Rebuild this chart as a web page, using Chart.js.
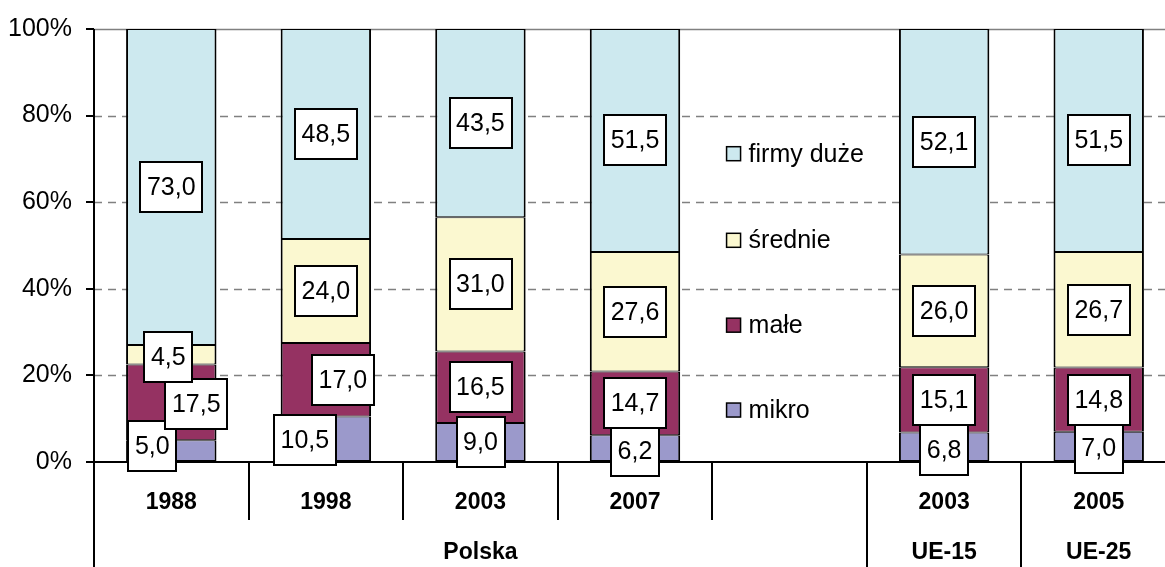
<!DOCTYPE html>
<html>
<head>
<meta charset="utf-8">
<script src="https://cdn.jsdelivr.net/npm/chart.js@4"></script>
<style>
  body { margin: 0; overflow: hidden; background: #fff; }
</style>
</head>
<body>
<canvas id="chart" width="1176" height="567"></canvas>
<script>
const years = ["1988", "1998", "2003", "2007", "", "2003", "2005"];
const groupNames = ["Polska", "UE-15", "UE-25"];
const groupSpans = [[0, 4], [5, 5], [6, 6]];
const mikro = [5.0, 10.5, 9.0, 6.2, null, 6.8, 7.0];
const male = [17.5, 17.0, 16.5, 14.7, null, 15.1, 14.8];
const srednie = [4.5, 24.0, 31.0, 27.6, null, 26.0, 26.7];
const duze = [73.0, 48.5, 43.5, 51.5, null, 52.1, 51.5];
const seriesNames = ["mikro", "małe", "średnie", "firmy duże"];
const yTicks = [0, 20, 40, 60, 80, 100];

const colors = ["#9b99cb", "#953262", "#fbf8d0", "#cde9ef"];
const FONT = "'Liberation Sans', Arial, sans-serif";

// manual nudges of a few value boxes, as in the original (dataset-index)
const labelShift = {
  "0-0": [-19, -5], "1-0": [25, 2], "2-0": [-3, 2],
  "0-1": [-21, 1], "1-1": [17, 0],
  "0-3": [0, 3], "0-5": [0, 3], "0-6": [0, 2],
};

const fmt = (v) => v.toFixed(1).replace(".", ",");

const decor = {
  id: "decor",
  beforeDatasetsDraw(chart) {
    const { ctx, chartArea: a, scales } = chart;
    const y = scales.y;
    ctx.save();
    // grid lines
    yTicks.forEach((t) => {
      if (t === 0) return;
      const py = Math.round(y.getPixelForValue(t)) + 0.5;
      ctx.beginPath();
      ctx.strokeStyle = "#808080";
      ctx.lineWidth = 1.5;
      ctx.setLineDash(t === 100 ? [] : [8, 6]);
      ctx.moveTo(a.left, py);
      ctx.lineTo(a.right, py);
      ctx.stroke();
    });
    ctx.setLineDash([]);
    ctx.strokeStyle = "#000";
    ctx.lineWidth = 2;
    // x axis line
    const by = Math.round(y.getPixelForValue(0));
    ctx.beginPath();
    ctx.moveTo(a.left - 8, by);
    ctx.lineTo(chart.width, by);
    ctx.stroke();
    // y axis line, down to the bottom
    ctx.beginPath();
    ctx.moveTo(a.left, a.top);
    ctx.lineTo(a.left, chart.height);
    ctx.stroke();
    // category separators
    const step = (a.right - a.left) / years.length;
    const groupEnds = groupSpans.map((g) => g[1]);
    for (let i = 0; i < years.length - 1; i++) {
      const sx = Math.round(a.left + step * (i + 1));
      const full = groupEnds.includes(i);
      ctx.beginPath();
      ctx.moveTo(sx, by);
      ctx.lineTo(sx, full ? chart.height : by + 58);
      ctx.stroke();
    }
    ctx.restore();
  },
  afterDatasetsDraw(chart) {
    const { ctx, scales } = chart;
    const x = scales.x, y = scales.y;
    ctx.save();
    // value boxes
    ctx.font = "25px " + FONT;
    ctx.textAlign = "center";
    ctx.textBaseline = "middle";
    chart.data.datasets.forEach((ds, di) => {
      const meta = chart.getDatasetMeta(di);
      meta.data.forEach((bar, i) => {
        const v = ds.data[i];
        if (v == null) return;
        const s = labelShift[di + "-" + i] || [0, 0];
        const cx = bar.x + s[0];
        const cy = (bar.y + bar.base) / 2 + s[1];
        const txt = fmt(v);
        const w = ctx.measureText(txt).width + 13;
        const h = 50;
        ctx.fillStyle = "#fff";
        ctx.fillRect(cx - w / 2, cy - h / 2, w, h);
        ctx.strokeStyle = "#000";
        ctx.lineWidth = 2;
        ctx.strokeRect(Math.round(cx - w / 2), Math.round(cy - h / 2), Math.round(w), h);
        ctx.fillStyle = "#000";
        ctx.fillText(txt, cx, cy + 1);
      });
    });
    // legend in the empty column
    const lx = x.getPixelForValue(4) - 63;
    const legendY = [71.2, 51.2, 31.6, 12];
    ctx.textAlign = "left";
    for (let k = 0; k < 4; k++) {
      const di = 3 - k;
      const ly = y.getPixelForValue(legendY[k]);
      ctx.fillStyle = colors[di];
      ctx.fillRect(lx, ly - 7, 14, 14);
      ctx.strokeStyle = "#000";
      ctx.lineWidth = 1.5;
      ctx.strokeRect(lx, ly - 7, 14, 14);
      ctx.fillStyle = "#000";
      ctx.fillText(seriesNames[di], lx + 22, ly + 1);
    }
    // x labels
    const by = y.getPixelForValue(0);
    ctx.textAlign = "center";
    ctx.font = "bold 23px " + FONT;
    years.forEach((yr, i) => {
      ctx.fillText(yr, x.getPixelForValue(i), by + 41);
    });
    groupSpans.forEach((g, k) => {
      const cx = (x.getPixelForValue(g[0]) + x.getPixelForValue(g[1])) / 2;
      ctx.fillText(groupNames[k], cx, by + 91);
    });
    ctx.restore();
  },
};

new Chart(document.getElementById("chart"), {
  type: "bar",
  data: {
    labels: years,
    datasets: [mikro, male, srednie, duze].map((d, i) => ({
      label: seriesNames[i],
      data: d,
      backgroundColor: colors[i],
      borderColor: "#000",
      borderWidth: { left: 2, right: 2, top: 1, bottom: 1 },
      borderSkipped: false,
      barPercentage: 0.585,
      categoryPercentage: 1,
    })),
  },
  options: {
    responsive: false,
    animation: false,
    layout: { padding: { top: 28, right: 0, bottom: 105, left: 0 } },
    plugins: { legend: { display: false }, tooltip: { enabled: false } },
    scales: {
      x: { stacked: true, display: false },
      y: {
        stacked: true,
        min: 0,
        max: 100,
        afterFit: (s) => { s.width = 94; },
        afterBuildTicks: (s) => { s.ticks = yTicks.map((v) => ({ value: v })); },
        ticks: {
          callback: (v) => v + "%",
          color: "#000",
          font: { family: FONT, size: 25 },
          padding: 14,
        },
        grid: {
          drawOnChartArea: false,
          tickLength: 8,
          tickColor: "#000",
          lineWidth: 2,
        },
        border: { display: false },
      },
    },
  },
  plugins: [decor],
});
</script>
</body>
</html>
